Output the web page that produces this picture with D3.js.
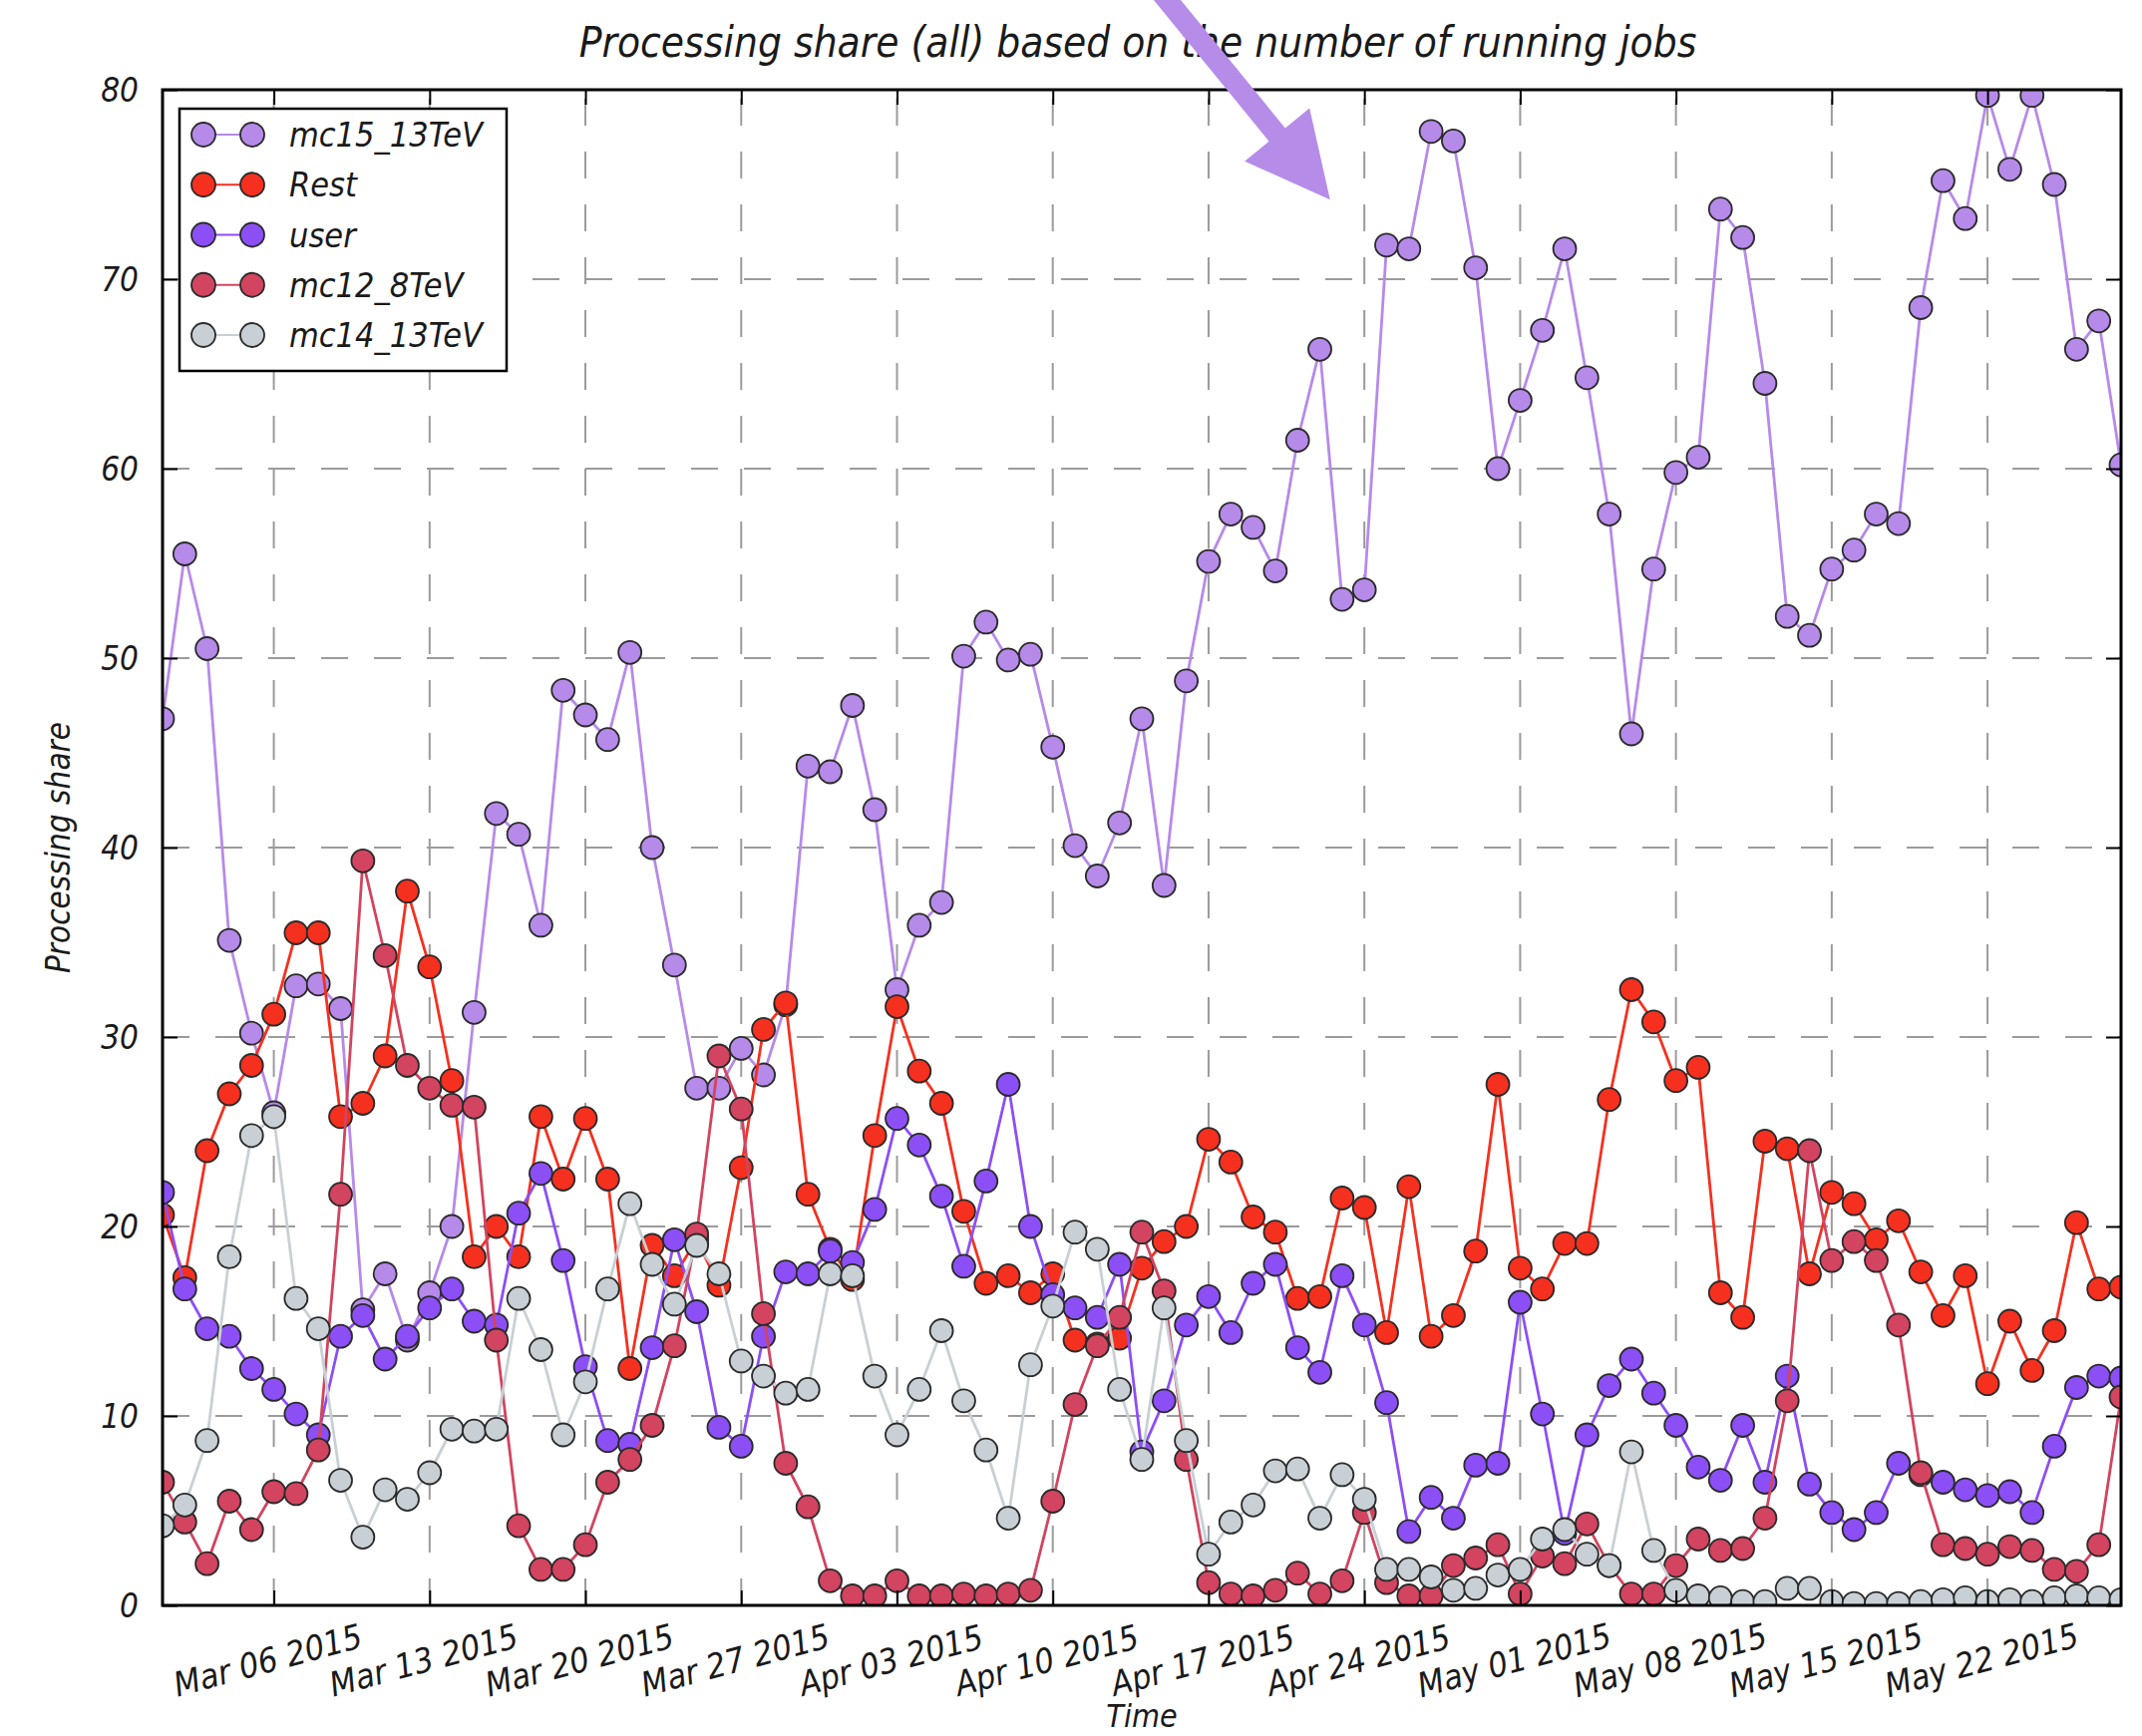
<!DOCTYPE html>
<html>
<head>
<meta charset="utf-8">
<script src="https://cdn.jsdelivr.net/npm/d3@7"></script>
<style>
  body { margin: 0; background: #fff; }
  text {
    font-family: "DejaVu Sans Condensed", "DejaVu Sans", sans-serif;
    font-stretch: condensed;
    font-style: italic;
    fill: #1a1a1a;
  }
</style>
</head>
<body>
<svg id="chart" width="2148" height="1741"></svg>
<script>
// Daily samples, 1 Mar 2015 .. 28 May 2015 (inclusive)
const firstDay = "2015-03-01";
const lastDay = "2015-05-28";

// Processing share (%) per day
const mc15_13TeV = [46.8, 55.5, 50.5, 35.1, 30.2, 26.0, 32.7, 32.8, 31.5, 15.6, 17.5, 14.0, 16.5, 20.0, 31.3, 41.8, 40.7, 35.9, 48.3, 47.0,
  45.7, 50.3, 40.0, 33.8, 27.3, 27.3, 29.4, 28.0, 31.7, 44.3, 44.0, 47.5, 42.0, 32.5, 35.9, 37.1, 50.1, 51.9, 49.9, 50.2,
  45.3, 40.1, 38.5, 41.3, 46.8, 38.0, 48.8, 55.1, 57.6, 56.9, 54.6, 61.5, 66.3, 53.1, 53.6, 71.8, 71.6, 77.8, 77.3, 70.6,
  60.0, 63.6, 67.3, 71.6, 64.8, 57.6, 46.0, 54.7, 59.8, 60.6, 73.7, 72.2, 64.5, 52.2, 51.2, 54.7, 55.7, 57.6, 57.1, 68.5,
  75.2, 73.2, 79.7, 75.8, 79.7, 75.0, 66.3, 67.8, 60.2];

const rest = [20.6, 17.3, 24.0, 27.0, 28.5, 31.2, 35.5, 35.5, 25.8, 26.5, 29.0, 37.7, 33.7, 27.7, 18.4, 20.0, 18.4, 25.8, 22.5, 25.7,
  22.5, 12.5, 19.0, 17.4, 19.3, 16.9, 23.1, 30.4, 31.8, 21.7, 18.8, 17.2, 24.8, 31.6, 28.2, 26.5, 20.8, 17.0, 17.4, 16.5,
  17.5, 14.0, 13.8, 14.1, 17.8, 19.2, 20.0, 24.6, 23.4, 20.5, 19.7, 16.2, 16.3, 21.5, 21.0, 14.4, 22.1, 14.2, 15.3, 18.7,
  27.5, 17.8, 16.7, 19.1, 19.1, 26.7, 32.5, 30.8, 27.7, 28.4, 16.5, 15.2, 24.5, 24.1, 17.5, 21.8, 21.2, 19.3, 20.3, 17.6,
  15.3, 17.4, 11.7, 15.0, 12.4, 14.5, 20.2, 16.7, 16.8];

const user = [21.8, 16.7, 14.6, 14.2, 12.5, 11.4, 10.1, 9.0, 14.2, 15.3, 13.0, 14.2, 15.7, 16.7, 15.0, 14.8, 20.7, 22.8, 18.2, 12.6,
  8.7, 8.5, 13.6, 19.3, 15.5, 9.4, 8.4, 14.2, 17.6, 17.5, 18.7, 18.1, 20.9, 25.7, 24.3, 21.6, 17.9, 22.4, 27.5, 20.0,
  16.4, 15.7, 15.2, 18.0, 8.1, 10.8, 14.8, 16.3, 14.4, 17.0, 18.0, 13.6, 12.3, 17.4, 14.8, 10.7, 3.9, 5.7, 4.6, 7.4,
  7.5, 16.0, 10.1, 3.8, 9.0, 11.6, 13.0, 11.2, 9.5, 7.3, 6.6, 9.5, 6.5, 12.1, 6.4, 4.9, 4.0, 4.9, 7.5, 6.9,
  6.5, 6.1, 5.8, 6.0, 4.9, 8.4, 11.5, 12.1, 12.0];

const mc12_8TeV = [6.5, 4.4, 2.2, 5.5, 4.0, 6.0, 5.9, 8.2, 21.7, 39.3, 34.3, 28.5, 27.3, 26.4, 26.3, 14.0, 4.2, 1.9, 1.9, 3.2,
  6.5, 7.7, 9.5, 13.7, 19.6, 29.0, 26.2, 15.4, 7.5, 5.2, 1.3, 0.5, 0.5, 1.3, 0.5, 0.5, 0.6, 0.5, 0.6, 0.8,
  5.5, 10.6, 13.7, 15.2, 19.7, 16.6, 7.7, 1.2, 0.6, 0.5, 0.8, 1.7, 0.6, 1.3, 4.9, 1.2, 0.5, 0.5, 2.1, 2.5,
  3.2, 0.6, 2.6, 2.2, 4.3, 2.1, 0.6, 0.6, 2.1, 3.5, 2.9, 3.0, 4.6, 10.8, 24.0, 18.2, 19.2, 18.2, 14.8, 7.0,
  3.2, 3.0, 2.7, 3.1, 2.9, 1.9, 1.8, 3.2, 11.0];

const mc14_13TeV = [4.2, 5.3, 8.7, 18.4, 24.8, 25.8, 16.2, 14.6, 6.6, 3.6, 6.1, 5.6, 7.0, 9.3, 9.2, 9.3, 16.2, 13.5, 9.0, 11.8,
  16.7, 21.2, 18.0, 15.9, 19.0, 17.5, 12.9, 12.1, 11.2, 11.4, 17.5, 17.4, 12.1, 9.0, 11.4, 14.5, 10.8, 8.2, 4.6, 12.7,
  15.8, 19.7, 18.8, 11.4, 7.7, 15.7, 8.7, 2.7, 4.4, 5.3, 7.1, 7.2, 4.6, 6.9, 5.6, 1.9, 1.9, 1.5, 0.8, 0.9,
  1.6, 1.9, 3.5, 4.0, 2.7, 2.1, 8.1, 2.9, 0.8, 0.5, 0.4, 0.2, 0.2, 0.9, 0.9, 0.2, 0.1, 0.1, 0.1, 0.2,
  0.3, 0.4, 0.2, 0.3, 0.2, 0.4, 0.5, 0.4, 0.3];

const seriesNames = ["mc15_13TeV", "Rest", "user", "mc12_8TeV", "mc14_13TeV"];
const seriesValues = [mc15_13TeV, rest, user, mc12_8TeV, mc14_13TeV];
const seriesColors = ["#b68ae9", "#f5301f", "#8c4ff5", "#d2445f", "#c8d0d5"];

const xTickLabels = ["Mar 06 2015", "Mar 13 2015", "Mar 20 2015", "Mar 27 2015", "Apr 03 2015", "Apr 10 2015",
  "Apr 17 2015", "Apr 24 2015", "May 01 2015", "May 08 2015", "May 15 2015", "May 22 2015"];
const yTickValues = [0, 10, 20, 30, 40, 50, 60, 70, 80];

// Highlight arrow, given in data coordinates (tail sits above the axes)
const arrowTail = { date: "2015-04-14T18:00:00Z", value: 85.3 };
const arrowTip = { date: "2015-04-22T11:00:00Z", value: 74.2 };

const titleText = "Processing share (all) based on the number of running jobs";
const xLabel = "Time";
const yLabel = "Processing share";

// ---- layout ----
const plot = { left: 163, right: 2127, top: 90, bottom: 1610 };
const svg = d3.select("#chart");

const parseDay = d3.utcParse("%Y-%m-%d");
const parseTick = d3.utcParse("%b %d %Y");
const days = d3.utcDay.range(parseDay(firstDay), d3.utcDay.offset(parseDay(lastDay), 1));

const x = d3.scaleUtc().domain([parseDay(firstDay), parseDay(lastDay)]).range([plot.left, plot.right]);
const y = d3.scaleLinear().domain([0, 80]).range([plot.bottom, plot.top]);
const xTicks = xTickLabels.map(parseTick);

// grid
const grid = svg.append("g").attr("stroke", "#9b9b9b").attr("stroke-width", 2).attr("stroke-dasharray", "27,26").attr("fill", "none");
grid.selectAll("line.v").data(xTicks).join("line")
  .attr("x1", d => x(d)).attr("x2", d => x(d))
  .attr("y1", plot.bottom).attr("y2", plot.top);
grid.selectAll("line.h").data(yTickValues.filter(v => v > 0 && v < 80)).join("line")
  .attr("x1", plot.left).attr("x2", plot.right)
  .attr("y1", d => y(d)).attr("y2", d => y(d));

// clip region for the series
svg.append("clipPath").attr("id", "plotClip").append("rect")
  .attr("x", plot.left).attr("y", plot.top)
  .attr("width", plot.right - plot.left).attr("height", plot.bottom - plot.top);

const seriesLayer = svg.append("g").attr("clip-path", "url(#plotClip)");
const line = d3.line().x((d, i) => x(days[i])).y(d => y(d));

seriesValues.forEach((vals, k) => {
  const g = seriesLayer.append("g");
  g.append("path").datum(vals)
    .attr("d", line)
    .attr("fill", "none")
    .attr("stroke", seriesColors[k])
    .attr("stroke-width", 2.8)
    .attr("stroke-linejoin", "round");
  g.selectAll("circle").data(vals).join("circle")
    .attr("cx", (d, i) => x(days[i]))
    .attr("cy", d => y(d))
    .attr("r", 11.5)
    .attr("fill", seriesColors[k])
    .attr("stroke", "#2a2a2a")
    .attr("stroke-width", 1.8);
});

// axes: ticks inward on all four sides
const axes = svg.append("g");
axes.append("g").attr("transform", `translate(0,${plot.bottom})`)
  .call(d3.axisBottom(x).tickValues(xTicks).tickSize(-15).tickFormat(""));
axes.append("g").attr("transform", `translate(0,${plot.top})`)
  .call(d3.axisTop(x).tickValues(xTicks).tickSize(-15).tickFormat(""));
axes.append("g").attr("transform", `translate(${plot.left},0)`)
  .call(d3.axisLeft(y).tickValues(yTickValues).tickSize(-15).tickFormat(""));
axes.append("g").attr("transform", `translate(${plot.right},0)`)
  .call(d3.axisRight(y).tickValues(yTickValues).tickSize(-15).tickFormat(""));
axes.selectAll(".domain").remove();
axes.selectAll(".tick line").attr("stroke", "#000").attr("stroke-width", 2);

svg.append("rect")
  .attr("x", plot.left).attr("y", plot.top)
  .attr("width", plot.right - plot.left).attr("height", plot.bottom - plot.top)
  .attr("fill", "none").attr("stroke", "#000").attr("stroke-width", 3);

// tick labels
svg.append("g").selectAll("text").data(yTickValues).join("text")
  .attr("x", plot.left - 24).attr("y", d => y(d))
  .attr("text-anchor", "end").attr("dominant-baseline", "central")
  .attr("font-size", 33)
  .text(d => d);

svg.append("g").selectAll("text").data(xTicks).join("text")
  .attr("transform", d => `translate(${x(d) - 6},${plot.bottom + 55}) rotate(-15)`)
  .attr("text-anchor", "middle").attr("dominant-baseline", "central")
  .attr("font-size", 34)
  .text((d, i) => xTickLabels[i]);

// axis titles and chart title
svg.append("text").attr("x", (plot.left + plot.right) / 2).attr("y", 1732)
  .attr("text-anchor", "middle")
  .attr("font-size", 32).text(xLabel);
svg.append("text").attr("transform", `translate(58,${(plot.top + plot.bottom) / 2}) rotate(-90)`)
  .attr("text-anchor", "middle").attr("dominant-baseline", "central")
  .attr("font-size", 33).text(yLabel);
svg.append("text").attr("x", (plot.left + plot.right) / 2 - 4).attr("y", 57)
  .attr("text-anchor", "middle")
  .attr("font-size", 42).text(titleText);

// legend
const legend = svg.append("g");
legend.append("rect").attr("x", 180).attr("y", 109).attr("width", 328).attr("height", 263)
  .attr("fill", "#fff").attr("stroke", "#000").attr("stroke-width", 2.5);
const rowY = d3.scalePoint().domain(seriesNames).range([135, 336]);
seriesNames.forEach((name, k) => {
  const ry = rowY(name);
  legend.append("line").attr("x1", 204).attr("x2", 253).attr("y1", ry).attr("y2", ry)
    .attr("stroke", seriesColors[k]).attr("stroke-width", 2.2);
  [204, 253].forEach(cx => legend.append("circle").attr("cx", cx).attr("cy", ry).attr("r", 12)
    .attr("fill", seriesColors[k]).attr("stroke", "#2a2a2a").attr("stroke-width", 1.8));
  legend.append("text").attr("x", 290).attr("y", ry).attr("dominant-baseline", "central")
    .attr("font-size", 34).text(name);
});

// highlight arrow
{
  const t0 = [x(new Date(arrowTail.date)), y(arrowTail.value)];
  const t1 = [x(new Date(arrowTip.date)), y(arrowTip.value)];
  const dx = t1[0] - t0[0], dy = t1[1] - t0[1];
  const len = Math.hypot(dx, dy);
  const ux = dx / len, uy = dy / len, px = -uy, py = ux;
  const headLen = 84, headHalf = 42, shaftHalf = 10.5;
  const bx = t1[0] - ux * headLen, by = t1[1] - uy * headLen;
  const pts = [
    [t0[0] + px * shaftHalf, t0[1] + py * shaftHalf],
    [bx + px * shaftHalf, by + py * shaftHalf],
    [bx + px * headHalf, by + py * headHalf],
    t1,
    [bx - px * headHalf, by - py * headHalf],
    [bx - px * shaftHalf, by - py * shaftHalf],
    [t0[0] - px * shaftHalf, t0[1] - py * shaftHalf]
  ];
  svg.append("path").attr("d", d3.line()(pts) + "Z").attr("fill", "#b68ce9");
}
</script>
</body>
</html>
